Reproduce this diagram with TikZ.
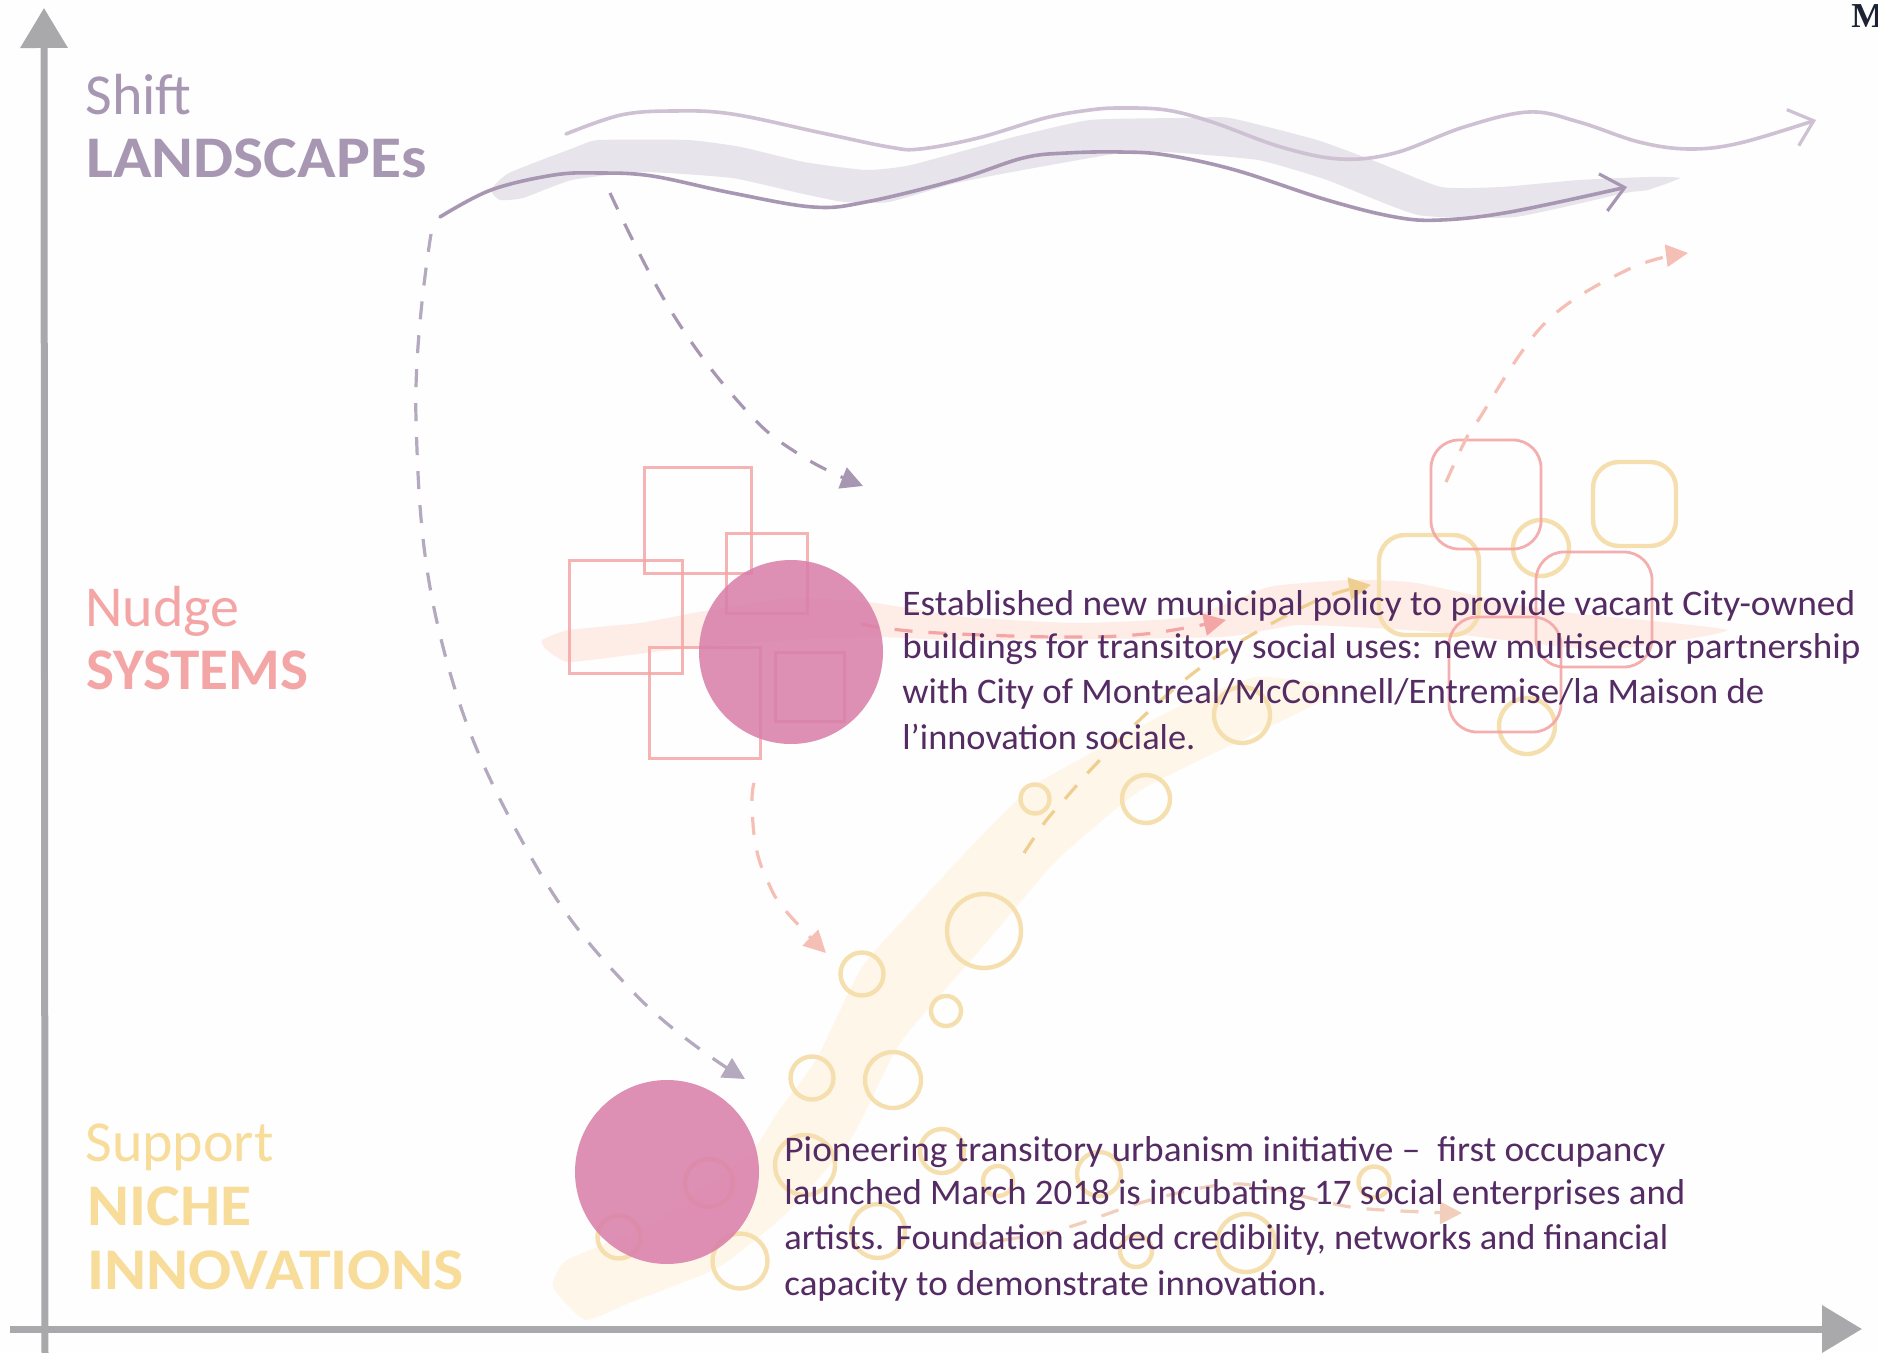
\documentclass[tikz,border=0pt]{standalone}
\usepackage{fontspec}
\usepackage{graphicx}
\usetikzlibrary{arrows.meta}
\setmainfont{Carlito}
\newfontfamily\mfont{Liberation Serif}
\definecolor{bgc}{HTML}{FEFEFE}
\definecolor{axisc}{HTML}{A9A9AB}
\definecolor{purp}{HTML}{A897B3}
\definecolor{purpl}{HTML}{CDC1D3}
\definecolor{purpd}{HTML}{B4A9BF}
\definecolor{pinkc}{HTML}{F4A6A6}
\definecolor{pinkl}{HTML}{F6BFB5}
\definecolor{pinkp}{HTML}{F2CFBC}
\definecolor{yelc}{HTML}{F8DC9A}
\definecolor{yeld}{HTML}{EFCF8F}
\definecolor{ringc}{HTML}{F6DFAE}
\definecolor{bandg}{HTML}{E8E4EB}
\definecolor{bandp}{HTML}{FDEDE6}
\definecolor{bandy}{HTML}{FFF6EA}
\definecolor{blob}{HTML}{D97FAA}
\definecolor{bodyc}{HTML}{552B63}
\definecolor{mcol}{HTML}{1A2233}
\tikzset{
  axisline/.style={draw=axisc,line width=3.5pt,-{Triangle[length=20pt,width=23pt]}},
  brush/.style={draw=none,smooth cycle,tension=0.35},
  sqbox/.style={draw=pinkc,line width=1.5pt,opacity=.85},
  rbox/.style={draw=pinkc,line width=1.4pt,rounded corners=14pt,opacity=.9},
  ybox/.style={draw=ringc,line width=2.2pt,rounded corners=13pt},
  ring/.style={draw=ringc,line width=2.2pt},
  blobc/.style={fill=blob,opacity=.87,draw=none},
  dsh/.style={line width=1.6pt,dash pattern=on 9pt off 8pt},
  wave/.style={line width=1.8pt,line cap=round},
  tipf/.style={-{Triangle[length=11pt,width=11pt]}},
  tipo/.style={-{Straight Barb[length=11pt,width=19pt,line width=1.6pt]}},
  lab/.style={anchor=base west,inner sep=0pt,font=\fontsize{29}{29}\selectfont},
  labb/.style={anchor=base west,inner sep=0pt,font=\fontsize{29.5}{29.5}\selectfont\bfseries},
  bodyt/.style={anchor=base west,inner sep=0pt,text=bodyc,font=\fontsize{18}{18}\selectfont},
}
\newcommand{\fitw}[2]{\resizebox{#1pt}{\height}{#2}}
\begin{document}
\begin{tikzpicture}[x=0.5pt,y=-0.5pt]
\useasboundingbox (0,0) rectangle (1878,1353);
\fill[bgc] (0,0) rectangle (1878,1353);
% brushes
\fill[bandg] plot[smooth cycle,tension=0.3] coordinates {(491,190) (509,173) (576,147) (599,140) (688,140) (741,147) (804,162) (866,170) (911,165) (1014,137) (1090,120) (1184,118) (1230,118) (1317,140) (1377,162) (1441,187) (1501,187) (1579,180) (1648,177) (1680,178) (1648,190) (1625,193) (1515,217) (1418,215) (1327,180) (1258,160) (1166,152) (1120,153) (1023,170) (956,183) (889,202) (844,202) (799,193) (732,178) (643,172) (572,180) (523,198) (500,200)};
\fill[bandp] plot[smooth cycle,tension=0.3] coordinates {(542,640) (569,630) (640,623) (699,612) (788,598) (868,602) (966,617) (1078,623) (1190,617) (1269,587) (1351,580) (1416,583) (1546,610) (1727,630) (1600,650) (1437,632) (1300,625) (1220,637) (966,640) (877,637) (788,640) (699,647) (645,653) (569,662) (547,650)};
\fill[bandy] plot[smooth cycle,tension=0.3] coordinates {(553,1287) (567,1260) (652,1223) (750,1153) (777,1113) (816,1060) (862,967) (915,907) (984,833) (1038,783) (1172,710) (1256,677) (1340,688) (1304,710) (1256,733) (1141,790) (1057,860) (980,950) (900,1043) (852,1137) (790,1210) (719,1267) (629,1303) (585,1320)};
% axes
\coordinate (ytop) at (44,8); \coordinate (ybot) at (45,1353);
\coordinate (xleft) at (10,1329); \coordinate (xright) at (1862,1329);
\draw[axisline] (ybot) -- (ytop);
\draw[axisline] (xleft) -- (xright);
% rectangles
\draw[sqbox] (644,467) rectangle (751,573);
\draw[sqbox] (726,533) rectangle (807,613);
\draw[sqbox] (569,560) rectangle (682,673);
\draw[sqbox] (649,647) rectangle (760,758);
\draw[sqbox] (775,652) rectangle (844,721);
% rings
\foreach \cx/\cy/\r in {1035/799/14.5,1146/799/24,984/931/37,862/974/21.5,946/1011/15,812/1078/21.5,893/1080/28,709/1183/24,619/1237/21.5,740/1261/27.5,805/1165/30,942/1151/22,998/1181/15,1099/1174/22,878/1231/27,1136/1251/16,1246/1243/29,1374/1182/15.5,1242/715/28,1541/548/28,1527/726/28}
  {\draw[ring] (\cx,\cy) ellipse [x radius=\r,y radius=\r];}
% rounded boxes
\draw[ybox] (1593,462) rectangle (1676,546);
\draw[ybox] (1379,535) rectangle (1479,635);
\draw[rbox] (1431,440) rectangle (1541,549);
\draw[rbox] (1536,552) rectangle (1652,667);
\draw[rbox] (1449,617) rectangle (1561,732);
% waves
\coordinate (w1s) at (440,217); \coordinate (w1e) at (1627,187);
\coordinate (w2s) at (566,134); \coordinate (w2e) at (1816,120);
\draw[wave,draw=purp,tipo] plot[smooth,tension=0.6] coordinates {(w1s) (491,190) (554,175) (599,173) (652,176) (732,193) (813,207) (866,202) (956,180) (1023,158) (1067,153) (1120,152) (1166,155) (1235,170) (1327,200) (1395,217) (1441,220) (1510,212) (w1e)};
\draw[wave,draw=purpl,tipo] plot[smooth,tension=0.6] coordinates {(w2s) (621,115) (674,111) (732,114) (822,133) (889,147) (920,149) (978,138) (1045,118) (1090,110) (1120,108) (1166,110) (1212,122) (1281,147) (1340,159) (1395,153) (1464,127) (1529,112) (1579,122) (1639,142) (1689,149) (1740,143) (w2e)};
% dashed connectors
\coordinate (as) at (610,193); \coordinate (ae) at (863,486);
\coordinate (bs) at (431,234); \coordinate (be) at (745,1079);
\coordinate (cs) at (754,783); \coordinate (ce) at (826,953);
\coordinate (ds) at (1024,853); \coordinate (de) at (1371,585);
\coordinate (es) at (861,624); \coordinate (ee) at (1226,620);
\coordinate (fs) at (1446,482); \coordinate (fe) at (1688,253);
\coordinate (gs) at (969,1245); \coordinate (ge) at (1462,1213);
\draw[dsh,draw=purp,tipf] plot[smooth,tension=0.7] coordinates {(as) (671,311) (743,407) (800,455) (ae)};
\draw[dsh,draw=purpd,tipf] plot[smooth,tension=0.7] coordinates {(bs) (416,419) (443,647) (527,850) (635,994) (be)};
\draw[dsh,draw=pinkl,tipf] plot[smooth,tension=0.7] coordinates {(cs) (752,803) (756,847) (768,882) (785,910) (ce)};
\draw[dsh,draw=yeld,tipf] plot[smooth,tension=0.6] coordinates {(ds) (1045,822) (1064,800) (1097,763) (1147,713) (1200,668) (1260,630) (1325,597) (de)};
\draw[dsh,draw=pinkc,tipf] plot[smooth,tension=0.6] coordinates {(es) (922,632) (1056,637) (1145,634) (ee)};
\draw[dsh,draw=pinkl,tipf] plot[smooth,tension=0.6] coordinates {(fs) (1464,443) (1477,422) (1545,323) (1629,269) (fe)};
\draw[dsh,draw=pinkp,tipf] plot[smooth,tension=0.6] coordinates {(gs) (1058,1230) (1143,1202) (1219,1185) (1264,1187) (1318,1200) (1358,1208) (1423,1212) (ge)};
% blobs
\path[blobc] (791,652) circle [radius=92];
\path[blobc] (667,1172) circle [radius=92];
% labels
\node[lab,text=purp] (l1) at (85,115) {Shift};
\node[labb,text=purp] (l2) at (86,178) {\fitw{170}{LANDSCAPEs}};
\node[lab,text=pinkc] (l3) at (85,626) {Nudge};
\node[labb,text=pinkc] (l4) at (86,689) {\fitw{111}{SYSTEMS}};
\node[lab,text=yelc] (l5) at (85,1161) {Support};
\node[labb,text=yelc] (l6) at (87,1225) {\fitw{82}{NICHE}};
\node[labb,text=yelc] (l7) at (87,1289) {\fitw{188}{INNOVATIONS}};
% body
\node[bodyt] (t1) at (902,615) {\fitw{476.5}{Established new municipal policy to provide vacant City-owned}};
\node[bodyt] (t2) at (902,658) {\fitw{479}{buildings for transitory social uses: new multisector partnership}};
\node[bodyt] (t3) at (902,703) {\fitw{431}{with City of Montreal/McConnell/Entremise/la Maison de}};
\node[bodyt] (t4) at (902,749) {\fitw{146.5}{l’innovation sociale.}};
\node[bodyt] (b1) at (784,1161) {\fitw{440.5}{Pioneering transitory urbanism initiative –\ \ first occupancy}};
\node[bodyt] (b2) at (784,1204) {\fitw{450.5}{launched March 2018 is incubating 17 social enterprises and}};
\node[bodyt] (b3) at (784,1249) {\fitw{442}{artists. Foundation added credibility, networks and financial}};
\node[bodyt] (b4) at (784,1295) {\fitw{271}{capacity to demonstrate innovation.}};
\node[anchor=base west,inner sep=0pt,text=mcol,font=\mfont\bfseries\fontsize{17.5}{17.5}\selectfont] (m) at (1851,28) {M};
\end{tikzpicture}
\end{document}
